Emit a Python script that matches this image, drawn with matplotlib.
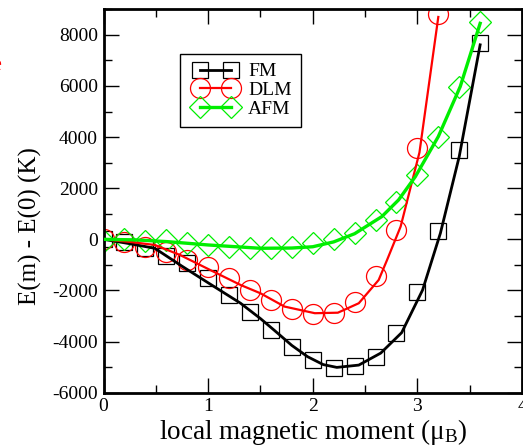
import matplotlib
matplotlib.use("Agg")
import matplotlib.pyplot as plt
from matplotlib.lines import Line2D
from matplotlib.legend_handler import HandlerLine2D
from matplotlib.ticker import MultipleLocator

plt.rcParams['font.family'] = ['Liberation Serif', 'DejaVu Serif']
plt.rcParams['mathtext.fontset'] = 'custom'
plt.rcParams['mathtext.rm'] = 'Liberation Serif'
plt.rcParams['mathtext.it'] = 'Liberation Serif:italic'
plt.rcParams['axes.unicode_minus'] = False

# Computed energies at each local moment (markers)
moment = [0.0, 0.2, 0.4, 0.6, 0.8, 1.0, 1.2, 1.4, 1.6, 1.8, 2.0, 2.2, 2.4, 2.6,
          2.8, 3.0, 3.2, 3.4, 3.6]
fm_energy = [0, -100, -350, -640, -940, -1500, -2160, -2830, -3550, -4200,
             -4720, -5050, -4950, -4590, -3680, -2070, 330, 3500, 7680]
dlm_moment = moment[:17]
dlm_energy = [0, -90, -290, -480, -810, -1100, -1530, -1980, -2370, -2740,
              -2920, -2890, -2460, -1420, 370, 3570, 8820]
afm_energy = [-50, 0, -60, -30, -150, -220, -290, -350, -350, -290, -150, 0,
              240, 760, 1480, 2520, 4020, 5950, 8520]

# Fitted curves
fm_fit_m = [0.0, 0.25, 0.49, 0.75, 1.0, 1.31, 1.5, 1.63, 1.8, 1.95, 2.1, 2.23,
            2.44, 2.65, 2.85, 3.05, 3.22, 3.4, 3.6]
fm_fit_e = [0, -170, -350, -1050, -1700, -2500, -3100, -3550, -4150, -4590,
            -4900, -5010, -4920, -4450, -3650, -1980, 240, 3240, 7610]
dlm_fit_m = [0.0, 0.25, 0.49, 0.73, 1.02, 1.31, 1.5, 1.73, 2.02, 2.24, 2.44,
             2.63, 2.71, 2.84, 3.02, 3.2]
dlm_fit_e = [0, -100, -220, -610, -1200, -1785, -2110, -2630, -2890, -2870,
             -2500, -1590, -810, 500, 3400, 8700]
afm_fit_m = [0.0, 0.3, 0.61, 1.0, 1.5, 1.8, 2.0, 2.2, 2.4, 2.66, 2.82, 2.98,
             3.2, 3.41, 3.6]
afm_fit_e = [0, -20, -90, -220, -350, -340, -290, -100, 220, 890, 1540, 2450,
             4020, 5980, 8450]

W, H = 523, 446
fig = plt.figure(figsize=(W / 100, H / 100), dpi=100)
x0, x1 = 103.5, 522.0
ytop, ybot = 9.3, 392.7
ax = fig.add_axes([x0 / W, 1 - ybot / H, (x1 - x0) / W, (ybot - ytop) / H])

green = '#00ee00'
ax.plot(fm_fit_m, fm_fit_e, color='black', lw=2.0, zorder=3)
ax.plot(moment, fm_energy, ls='none', marker='s', ms=12.2, mfc='none',
        mec='black', mew=0.9, zorder=2)
ax.plot(dlm_fit_m, dlm_fit_e, color='red', lw=1.6, zorder=3)
ax.plot(dlm_moment, dlm_energy, ls='none', marker='o', ms=14.4, mfc='none',
        mec='red', mew=0.9, zorder=2)
ax.plot(afm_fit_m, afm_fit_e, color=green, lw=2.4, zorder=3)
ax.plot(moment, afm_energy, ls='none', marker='D', ms=11.2, mfc='none',
        mec=green, mew=0.9, zorder=2)

# legend proxies: marker - line - marker
h_fm = Line2D([], [], color='black', lw=2.0, marker='s', ms=12.2,
              mfc='none', mec='black', mew=0.9)
h_dlm = Line2D([], [], color='red', lw=1.6, marker='o', ms=14.4,
               mfc='none', mec='red', mew=0.9)
h_afm = Line2D([], [], color=green, lw=2.4, marker='D', ms=11.2,
               mfc='none', mec=green, mew=0.9)
leg = ax.legend([h_fm, h_dlm, h_afm], ['FM', 'DLM', 'AFM'], numpoints=2,
                handler_map={Line2D: HandlerLine2D(marker_pad=0.58,
                                                   numpoints=2)},
                loc='upper left', bbox_to_anchor=((180 - x0) / (x1 - x0),
                                                  1 - (54 - ytop) / (ybot - ytop)),
                borderaxespad=0, fontsize=14, handlelength=2.76,
                handletextpad=0.3, labelspacing=0.06, borderpad=0.45,
                fancybox=False, framealpha=1, edgecolor='black')
leg.get_frame().set_linewidth(1.0)

ax.set_xlim(0, 4)
ax.set_ylim(-6000, 9000)
ax.xaxis.set_major_locator(MultipleLocator(1))
ax.xaxis.set_minor_locator(MultipleLocator(0.5))
ax.yaxis.set_major_locator(MultipleLocator(2000))
ax.yaxis.set_minor_locator(MultipleLocator(1000))
ax.tick_params(which='both', direction='in', top=True, right=True,
               labelsize=14, width=1.0, color='black')
ax.tick_params(which='major', length=10.5, pad=4)
ax.tick_params(which='minor', length=5.5)
for s in ax.spines.values():
    s.set_linewidth(2.0)

ax.set_xlabel(r'local magnetic moment ($\mathregular{\mu_B}$)', fontsize=19.5,
              labelpad=1)
ax.set_ylabel('E(m) - E(0) (K)', fontsize=18)
ax.yaxis.set_label_coords(-0.147, 0.435)

# clipped red mark at the left edge
fig.text(1.5 / W, 1 - 66 / H, 'e', color='red', ha='right', va='center',
         fontsize=16)

fig.savefig('out.png', dpi=100)
